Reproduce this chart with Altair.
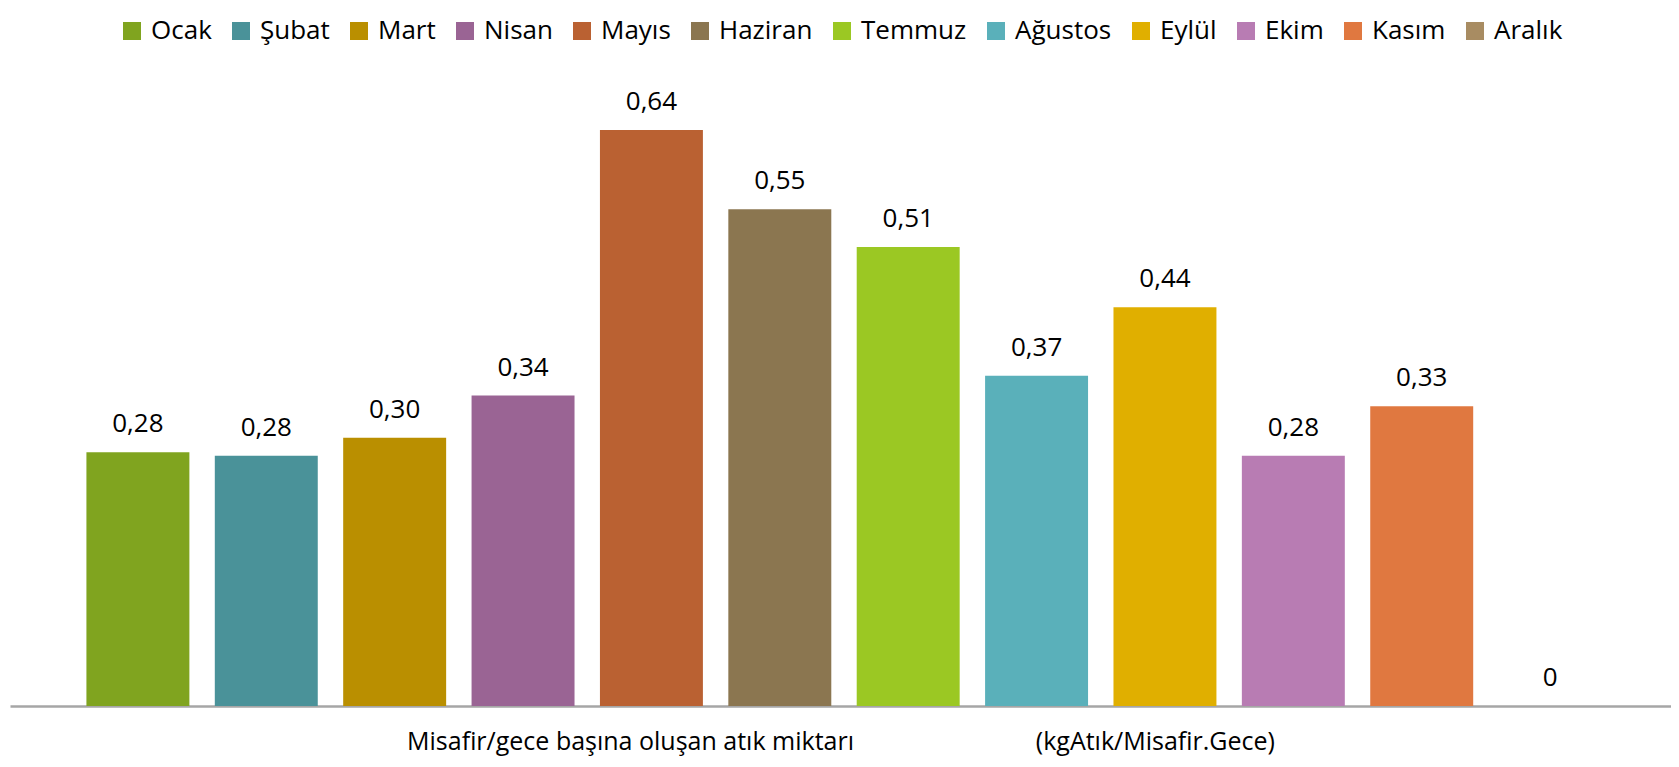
import altair as alt
import pandas as pd

months = ["Ocak", "Şubat", "Mart", "Nisan", "Mayıs", "Haziran",
          "Temmuz", "Ağustos", "Eylül", "Ekim", "Kasım", "Aralık"]
values = [0.282, 0.278, 0.298, 0.345, 0.64, 0.552, 0.51, 0.367, 0.443, 0.278, 0.333, 0.0]
colors = ["#80A41F", "#4A9299", "#BA8F00", "#9A6494", "#BA6132", "#8B7650",
          "#9BC823", "#5AB0BA", "#E0AF00", "#B87CB3", "#E07840", "#A88C62"]

axis_title = ("Misafir/gece başına oluşan atık miktarı"
              + "\u00a0" * 28 + "(kgAtık/Misafir.Gece)")

df = pd.DataFrame({"ay": months, "v": values})

FONT = "Open Sans"

x = alt.X("ay:N", sort=months,
          scale=alt.Scale(paddingInner=0.198, paddingOuter=0.568, align=0.524),
          axis=alt.Axis(title=axis_title, labels=False, ticks=False,
                        domainColor="#A6A6A6", domainWidth=2.5,
                        titleFont=FONT, titleFontSize=25, titleFontWeight="normal",
                        titleColor="#000000", titlePadding=23))
y = alt.Y("v:Q", scale=alt.Scale(domain=[0, 0.72], nice=False, zero=True), axis=None)

bars = alt.Chart(df).mark_bar().encode(
    x=x, y=y,
    color=alt.Color("ay:N", sort=months,
                    scale=alt.Scale(domain=months, range=colors),
                    legend=alt.Legend(title=None, orient="none", direction="horizontal",
                                      columns=12, legendX=109, legendY=-40,
                                      symbolType="square", symbolSize=324,
                                      symbolStrokeWidth=0, symbolOpacity=1,
                                      labelFont=FONT, labelFontSize=26,
                                      labelColor="#000000", labelOffset=6,
                                      columnPadding=16)),
)

labels = alt.Chart(df).transform_calculate(
    lab="datum.v == 0 ? '0' : replace(format(datum.v, '.2f'), '.', ',')"
).mark_text(font=FONT, fontSize=26, color="#000000", baseline="alphabetic", dy=-20).encode(
    x=alt.X("ay:N", sort=months), y="v:Q", text="lab:N")

chart = (bars + labels).properties(
    width=1661, height=648,
    autosize=alt.AutoSizeParams(type="none"),
    padding={"left": 2, "top": 50, "right": 0, "bottom": 52},
).configure_view(stroke=None)

chart.save("out.html", embed_options={"renderer": "svg", "actions": False})
